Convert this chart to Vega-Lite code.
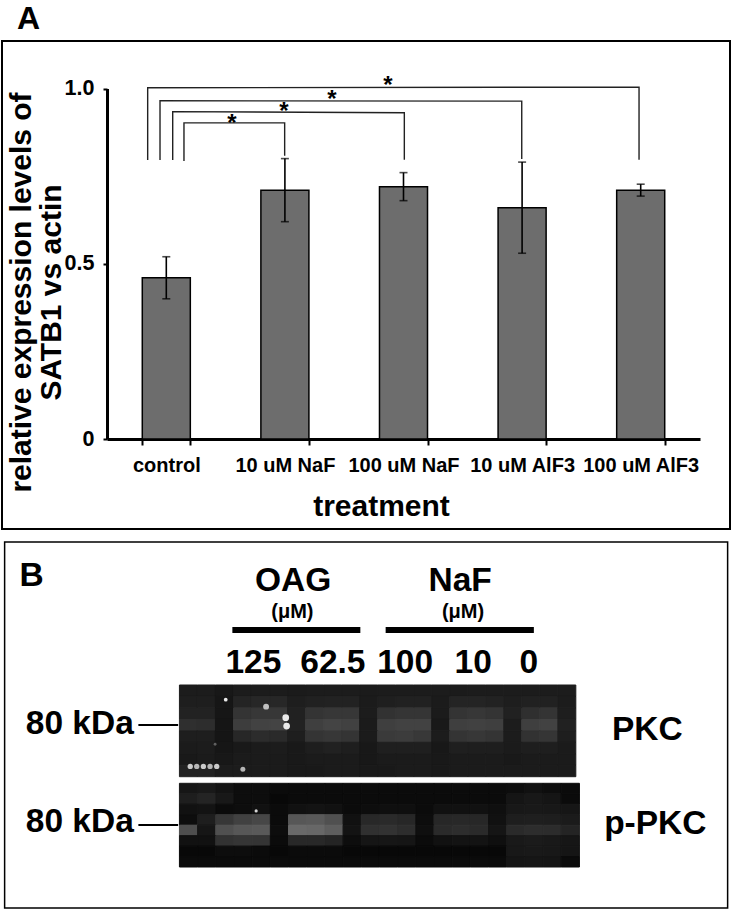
{"$schema":"https://vega.github.io/schema/vega-lite/v6.json","padding":{"left":1,"top":2,"right":0,"bottom":0},"autosize":"pad","background":"white","spacing":11,"center":true,"config":{"font":"Liberation Sans","text":{"font":"Liberation Sans","fontWeight":"bold"}},
"datasets":{
"bars":[{"treatment":"control","mean":0.46,"lo":0.40,"hi":0.52},{"treatment":"10 uM NaF","mean":0.71,"lo":0.62,"hi":0.80},{"treatment":"100 uM NaF","mean":0.72,"lo":0.68,"hi":0.76},{"treatment":"10 uM AlF3","mean":0.66,"lo":0.53,"hi":0.79},{"treatment":"100 uM AlF3","mean":0.71,"lo":0.693,"hi":0.727}],
"brackets":[{"b":"d","i":0,"lane":-0.157,"v":0.796},{"b":"d","i":1,"lane":-0.157,"v":1.002},{"b":"d","i":2,"lane":3.986,"v":1.004},{"b":"d","i":3,"lane":3.986,"v":0.797},{"b":"c","i":0,"lane":-0.053,"v":0.796},{"b":"c","i":1,"lane":-0.053,"v":0.965},{"b":"c","i":2,"lane":2.997,"v":0.964},{"b":"c","i":3,"lane":2.997,"v":0.799},{"b":"b","i":0,"lane":0.054,"v":0.796},{"b":"b","i":1,"lane":0.054,"v":0.934},{"b":"b","i":2,"lane":2.007,"v":0.931},{"b":"b","i":3,"lane":2.007,"v":0.797},{"b":"a","i":0,"lane":0.149,"v":0.793},{"b":"a","i":1,"lane":0.149,"v":0.902},{"b":"a","i":2,"lane":0.998,"v":0.902},{"b":"a","i":3,"lane":0.998,"v":0.808}],
"stars":[{"lane":0.554,"v":0.913,"t":"*"},{"lane":0.992,"v":0.947,"t":"*"},{"lane":1.397,"v":0.981,"t":"*"},{"lane":1.869,"v":1.021,"t":"*"}],
"heads":[{"x":39.9,"y":13.3,"t":"OAG"},{"x":63,"y":13.3,"t":"NaF"},{"x":34.4,"y":35.6,"t":"125"},{"x":45.4,"y":35.6,"t":"62.5"},{"x":55.4,"y":35.6,"t":"100"},{"x":64.8,"y":35.6,"t":"10"},{"x":72.5,"y":35.6,"t":"0"},{"x":10.4,"y":52.2,"t":"80 kDa"},{"x":10.4,"y":78.8,"t":"80 kDa"},{"x":88.9,"y":53.8,"t":"PKC"},{"x":90,"y":79.3,"t":"p-PKC"},{"x":3.73,"y":11.96,"t":"B"}],
"units":[{"x":39.8,"y":20.65,"t":"(μM)"},{"x":63.4,"y":20.65,"t":"(μM)"}],
"lines":[{"x":31.5,"x2":49.2,"y":23.9},{"x":52.7,"x2":73.2,"y":23.9}],
"marks":[{"x":18.5,"x2":24,"y":49.7},{"x":18.5,"x2":24,"y":76.9}],
"specks1":[{"c":2.57,"r":1.28,"s":14,"v":250},{"c":4.81,"r":1.89,"s":35,"v":210},{"c":5.9,"r":2.85,"s":45,"v":250},{"c":5.95,"r":3.58,"s":45,"v":250},{"c":3.52,"r":7.35,"s":25,"v":200},{"c":1.98,"r":5.17,"s":8,"v":110},{"c":0.6,"r":7.1,"s":28,"v":220},{"c":0.96,"r":7.1,"s":28,"v":200},{"c":1.33,"r":7.1,"s":28,"v":220},{"c":1.7,"r":7.1,"s":28,"v":200},{"c":2.07,"r":7.1,"s":28,"v":220}],
"specks2":[{"c":4.22,"r":2.64,"s":10,"v":230}],
"blot1":[
{"c":0,"r":0,"v":28},{"c":1,"r":0,"v":28},{"c":2,"r":0,"v":22},{"c":3,"r":0,"v":28},{"c":4,"r":0,"v":28},{"c":5,"r":0,"v":28},{"c":6,"r":0,"v":26},{"c":7,"r":0,"v":28},{"c":8,"r":0,"v":28},{"c":9,"r":0,"v":28},{"c":10,"r":0,"v":26},{"c":11,"r":0,"v":28},{"c":12,"r":0,"v":28},{"c":13,"r":0,"v":28},{"c":14,"r":0,"v":28},{"c":15,"r":0,"v":26},{"c":16,"r":0,"v":28},{"c":17,"r":0,"v":28},{"c":18,"r":0,"v":28},{"c":19,"r":0,"v":28},{"c":20,"r":0,"v":28},{"c":21,"r":0,"v":28},
{"c":0,"r":1,"v":30},{"c":1,"r":1,"v":30},{"c":2,"r":1,"v":20},{"c":3,"r":1,"v":38},{"c":4,"r":1,"v":42},{"c":5,"r":1,"v":42},{"c":6,"r":1,"v":30},{"c":7,"r":1,"v":34},{"c":8,"r":1,"v":36},{"c":9,"r":1,"v":36},{"c":10,"r":1,"v":26},{"c":11,"r":1,"v":32},{"c":12,"r":1,"v":34},{"c":13,"r":1,"v":34},{"c":14,"r":1,"v":26},{"c":15,"r":1,"v":38},{"c":16,"r":1,"v":38},{"c":17,"r":1,"v":36},{"c":18,"r":1,"v":30},{"c":19,"r":1,"v":34},{"c":20,"r":1,"v":34},{"c":21,"r":1,"v":28},
{"c":0,"r":2,"v":36},{"c":1,"r":2,"v":36},{"c":2,"r":2,"v":20},{"c":3,"r":2,"v":58},{"c":4,"r":2,"v":62},{"c":5,"r":2,"v":62},{"c":6,"r":2,"v":34},{"c":7,"r":2,"v":58},{"c":8,"r":2,"v":62},{"c":9,"r":2,"v":62},{"c":10,"r":2,"v":28},{"c":11,"r":2,"v":56},{"c":12,"r":2,"v":60},{"c":13,"r":2,"v":60},{"c":14,"r":2,"v":26},{"c":15,"r":2,"v":58},{"c":16,"r":2,"v":62},{"c":17,"r":2,"v":58},{"c":18,"r":2,"v":34},{"c":19,"r":2,"v":52},{"c":20,"r":2,"v":58},{"c":21,"r":2,"v":30},
{"c":0,"r":3,"v":52},{"c":1,"r":3,"v":50},{"c":2,"r":3,"v":18},{"c":3,"r":3,"v":70},{"c":4,"r":3,"v":76},{"c":5,"r":3,"v":78},{"c":6,"r":3,"v":36},{"c":7,"r":3,"v":72},{"c":8,"r":3,"v":78},{"c":9,"r":3,"v":74},{"c":10,"r":3,"v":26},{"c":11,"r":3,"v":72},{"c":12,"r":3,"v":76},{"c":13,"r":3,"v":76},{"c":14,"r":3,"v":24},{"c":15,"r":3,"v":72},{"c":16,"r":3,"v":74},{"c":17,"r":3,"v":72},{"c":18,"r":3,"v":28},{"c":19,"r":3,"v":72},{"c":20,"r":3,"v":76},{"c":21,"r":3,"v":34},
{"c":0,"r":4,"v":30},{"c":1,"r":4,"v":30},{"c":2,"r":4,"v":18},{"c":3,"r":4,"v":42},{"c":4,"r":4,"v":48},{"c":5,"r":4,"v":46},{"c":6,"r":4,"v":30},{"c":7,"r":4,"v":58},{"c":8,"r":4,"v":62},{"c":9,"r":4,"v":58},{"c":10,"r":4,"v":26},{"c":11,"r":4,"v":66},{"c":12,"r":4,"v":68},{"c":13,"r":4,"v":64},{"c":14,"r":4,"v":28},{"c":15,"r":4,"v":58},{"c":16,"r":4,"v":62},{"c":17,"r":4,"v":58},{"c":18,"r":4,"v":28},{"c":19,"r":4,"v":56},{"c":20,"r":4,"v":60},{"c":21,"r":4,"v":30},
{"c":0,"r":5,"v":26},{"c":1,"r":5,"v":28},{"c":2,"r":5,"v":20},{"c":3,"r":5,"v":24},{"c":4,"r":5,"v":26},{"c":5,"r":5,"v":28},{"c":6,"r":5,"v":24},{"c":7,"r":5,"v":30},{"c":8,"r":5,"v":34},{"c":9,"r":5,"v":30},{"c":10,"r":5,"v":22},{"c":11,"r":5,"v":32},{"c":12,"r":5,"v":32},{"c":13,"r":5,"v":32},{"c":14,"r":5,"v":22},{"c":15,"r":5,"v":32},{"c":16,"r":5,"v":30},{"c":17,"r":5,"v":30},{"c":18,"r":5,"v":26},{"c":19,"r":5,"v":30},{"c":20,"r":5,"v":30},{"c":21,"r":5,"v":26},
{"c":0,"r":6,"v":24},{"c":1,"r":6,"v":26},{"c":2,"r":6,"v":22},{"c":3,"r":6,"v":26},{"c":4,"r":6,"v":26},{"c":5,"r":6,"v":26},{"c":6,"r":6,"v":24},{"c":7,"r":6,"v":26},{"c":8,"r":6,"v":26},{"c":9,"r":6,"v":26},{"c":10,"r":6,"v":22},{"c":11,"r":6,"v":26},{"c":12,"r":6,"v":26},{"c":13,"r":6,"v":26},{"c":14,"r":6,"v":24},{"c":15,"r":6,"v":26},{"c":16,"r":6,"v":26},{"c":17,"r":6,"v":26},{"c":18,"r":6,"v":24},{"c":19,"r":6,"v":26},{"c":20,"r":6,"v":26},{"c":21,"r":6,"v":26},
{"c":0,"r":7,"v":36},{"c":1,"r":7,"v":36},{"c":2,"r":7,"v":28},{"c":3,"r":7,"v":28},{"c":4,"r":7,"v":26},{"c":5,"r":7,"v":26},{"c":6,"r":7,"v":24},{"c":7,"r":7,"v":24},{"c":8,"r":7,"v":26},{"c":9,"r":7,"v":26},{"c":10,"r":7,"v":24},{"c":11,"r":7,"v":24},{"c":12,"r":7,"v":26},{"c":13,"r":7,"v":26},{"c":14,"r":7,"v":24},{"c":15,"r":7,"v":26},{"c":16,"r":7,"v":26},{"c":17,"r":7,"v":26},{"c":18,"r":7,"v":26},{"c":19,"r":7,"v":26},{"c":20,"r":7,"v":26},{"c":21,"r":7,"v":26}],
"blot2":[
{"c":0,"r":0,"v":20},{"c":1,"r":0,"v":24},{"c":2,"r":0,"v":16},{"c":3,"r":0,"v":10},{"c":4,"r":0,"v":10},{"c":5,"r":0,"v":8},{"c":6,"r":0,"v":8},{"c":7,"r":0,"v":8},{"c":8,"r":0,"v":8},{"c":9,"r":0,"v":8},{"c":10,"r":0,"v":8},{"c":11,"r":0,"v":8},{"c":12,"r":0,"v":8},{"c":13,"r":0,"v":8},{"c":14,"r":0,"v":8},{"c":15,"r":0,"v":8},{"c":16,"r":0,"v":8},{"c":17,"r":0,"v":8},{"c":18,"r":0,"v":10},{"c":19,"r":0,"v":14},{"c":20,"r":0,"v":10},{"c":21,"r":0,"v":8},
{"c":0,"r":1,"v":30},{"c":1,"r":1,"v":38},{"c":2,"r":1,"v":22},{"c":3,"r":1,"v":10},{"c":4,"r":1,"v":10},{"c":5,"r":1,"v":6},{"c":6,"r":1,"v":8},{"c":7,"r":1,"v":8},{"c":8,"r":1,"v":8},{"c":9,"r":1,"v":8},{"c":10,"r":1,"v":8},{"c":11,"r":1,"v":8},{"c":12,"r":1,"v":8},{"c":13,"r":1,"v":8},{"c":14,"r":1,"v":8},{"c":15,"r":1,"v":8},{"c":16,"r":1,"v":8},{"c":17,"r":1,"v":8},{"c":18,"r":1,"v":18},{"c":19,"r":1,"v":22},{"c":20,"r":1,"v":18},{"c":21,"r":1,"v":8},
{"c":0,"r":2,"v":14},{"c":1,"r":2,"v":16},{"c":2,"r":2,"v":8},{"c":3,"r":2,"v":10},{"c":4,"r":2,"v":14},{"c":5,"r":2,"v":8},{"c":6,"r":2,"v":14},{"c":7,"r":2,"v":16},{"c":8,"r":2,"v":14},{"c":9,"r":2,"v":8},{"c":10,"r":2,"v":10},{"c":11,"r":2,"v":12},{"c":12,"r":2,"v":12},{"c":13,"r":2,"v":8},{"c":14,"r":2,"v":14},{"c":15,"r":2,"v":14},{"c":16,"r":2,"v":14},{"c":17,"r":2,"v":12},{"c":18,"r":2,"v":22},{"c":19,"r":2,"v":24},{"c":20,"r":2,"v":22},{"c":21,"r":2,"v":20},
{"c":0,"r":3,"v":10},{"c":1,"r":3,"v":30},{"c":2,"r":3,"v":62},{"c":3,"r":3,"v":74},{"c":4,"r":3,"v":82},{"c":5,"r":3,"v":8},{"c":6,"r":3,"v":100},{"c":7,"r":3,"v":102},{"c":8,"r":3,"v":92},{"c":9,"r":3,"v":14},{"c":10,"r":3,"v":44},{"c":11,"r":3,"v":46},{"c":12,"r":3,"v":42},{"c":13,"r":3,"v":10},{"c":14,"r":3,"v":42},{"c":15,"r":3,"v":44},{"c":16,"r":3,"v":42},{"c":17,"r":3,"v":14},{"c":18,"r":3,"v":30},{"c":19,"r":3,"v":32},{"c":20,"r":3,"v":30},{"c":21,"r":3,"v":26},
{"c":0,"r":4,"v":90},{"c":1,"r":4,"v":20},{"c":2,"r":4,"v":92},{"c":3,"r":4,"v":100},{"c":4,"r":4,"v":102},{"c":5,"r":4,"v":10},{"c":6,"r":4,"v":120},{"c":7,"r":4,"v":118},{"c":8,"r":4,"v":108},{"c":9,"r":4,"v":16},{"c":10,"r":4,"v":54},{"c":11,"r":4,"v":56},{"c":12,"r":4,"v":50},{"c":13,"r":4,"v":12},{"c":14,"r":4,"v":46},{"c":15,"r":4,"v":50},{"c":16,"r":4,"v":46},{"c":17,"r":4,"v":18},{"c":18,"r":4,"v":46},{"c":19,"r":4,"v":50},{"c":20,"r":4,"v":48},{"c":21,"r":4,"v":38},
{"c":0,"r":5,"v":14},{"c":1,"r":5,"v":14},{"c":2,"r":5,"v":56},{"c":3,"r":5,"v":60},{"c":4,"r":5,"v":58},{"c":5,"r":5,"v":8},{"c":6,"r":5,"v":44},{"c":7,"r":5,"v":44},{"c":8,"r":5,"v":38},{"c":9,"r":5,"v":10},{"c":10,"r":5,"v":18},{"c":11,"r":5,"v":20},{"c":12,"r":5,"v":18},{"c":13,"r":5,"v":8},{"c":14,"r":5,"v":14},{"c":15,"r":5,"v":16},{"c":16,"r":5,"v":16},{"c":17,"r":5,"v":12},{"c":18,"r":5,"v":24},{"c":19,"r":5,"v":26},{"c":20,"r":5,"v":24},{"c":21,"r":5,"v":20},
{"c":0,"r":6,"v":6},{"c":1,"r":6,"v":6},{"c":2,"r":6,"v":10},{"c":3,"r":6,"v":10},{"c":4,"r":6,"v":8},{"c":5,"r":6,"v":6},{"c":6,"r":6,"v":8},{"c":7,"r":6,"v":8},{"c":8,"r":6,"v":8},{"c":9,"r":6,"v":6},{"c":10,"r":6,"v":6},{"c":11,"r":6,"v":6},{"c":12,"r":6,"v":6},{"c":13,"r":6,"v":6},{"c":14,"r":6,"v":6},{"c":15,"r":6,"v":6},{"c":16,"r":6,"v":6},{"c":17,"r":6,"v":6},{"c":18,"r":6,"v":22},{"c":19,"r":6,"v":24},{"c":20,"r":6,"v":22},{"c":21,"r":6,"v":18},
{"c":0,"r":7,"v":8},{"c":1,"r":7,"v":8},{"c":2,"r":7,"v":8},{"c":3,"r":7,"v":8},{"c":4,"r":7,"v":8},{"c":5,"r":7,"v":8},{"c":6,"r":7,"v":8},{"c":7,"r":7,"v":8},{"c":8,"r":7,"v":8},{"c":9,"r":7,"v":8},{"c":10,"r":7,"v":8},{"c":11,"r":7,"v":8},{"c":12,"r":7,"v":8},{"c":13,"r":7,"v":8},{"c":14,"r":7,"v":8},{"c":15,"r":7,"v":8},{"c":16,"r":7,"v":8},{"c":17,"r":7,"v":8},{"c":18,"r":7,"v":18},{"c":19,"r":7,"v":20},{"c":20,"r":7,"v":18},{"c":21,"r":7,"v":8}]
},
"vconcat":[
{"width":728,"height":488,"view":{"stroke":"#000","strokeWidth":2,"fill":"white"},
"title":{"text":"A","anchor":"start","frame":"group","dx":15,"fontSize":32,"fontWeight":"bold","font":"Liberation Sans","offset":5,"color":"#000"},
"encoding":{"y":{"type":"quantitative","scale":{"domain":[0,1],"range":[398,47.5],"nice":false}}},
"layer":[
{"data":{"name":"bars"},
 "encoding":{"x":{"field":"treatment","type":"nominal","sort":null,"scale":{"range":[105,698],"paddingInner":0.595,"paddingOuter":0.2975}}},
 "layer":[
 {"mark":{"type":"bar","fill":"#6d6d6d","stroke":"#000","strokeWidth":1.5},
  "encoding":{"x":{"field":"treatment","type":"nominal","sort":null,"scale":{"range":[105,698],"paddingInner":0.595,"paddingOuter":0.2975},
    "axis":{"title":"treatment","titleFont":"Liberation Sans","titleFontSize":30,"titleFontWeight":"bold","titleColor":"#000","titleX":379,"titleY":52,"titleAlign":"center","offset":-90,"domainWidth":3,"domainColor":"#000","tickColor":"#000","tickWidth":2,"tickSize":6,"tickBand":"extent","labelAngle":0,"labelFont":"Liberation Sans","labelFontSize":20,"labelFontWeight":"bold","labelColor":"#000","labelPadding":10,"labelOverlap":false,"labelBound":false,"labelFlush":false,"encoding":{"labels":{"update":{"dx":{"signal":"datum.value=='control'?-2:datum.value=='10 uM NaF'?-8:datum.value=='100 uM NaF'?-5:datum.value=='10 uM AlF3'?1:9"}}}}}},
   "y":{"field":"mean","type":"quantitative","scale":{"domain":[0,1],"range":[398,47.5],"nice":false},
    "axis":{"title":["relative expression levels of","SATB1 vs actin"],"titleFont":"Liberation Sans","titleFontSize":30,"titleFontWeight":"bold","titleColor":"#000","titleLineHeight":30,"titleX":-71,"titleY":251,"titleAlign":"center","titleAngle":-90,"offset":-105,"values":[0,0.5,1],"labelExpr":"datum.value==0?'0':format(datum.value,'.1f')","domainWidth":3,"domainColor":"#000","tickColor":"#000","tickWidth":2,"tickSize":4,"labelFont":"Liberation Sans","labelFontSize":21.5,"labelFontWeight":"bold","labelColor":"#000","labelPadding":9,"grid":false}}}},
 {"mark":{"type":"rule","color":"#000","strokeWidth":1.6},"encoding":{"y":{"field":"lo","type":"quantitative"},"y2":{"field":"hi"}}},
 {"mark":{"type":"tick","orient":"horizontal","color":"#000","thickness":1.6,"size":8},"encoding":{"y":{"field":"lo","type":"quantitative"}}},
 {"mark":{"type":"tick","orient":"horizontal","color":"#000","thickness":1.6,"size":8},"encoding":{"y":{"field":"hi","type":"quantitative"}}}
 ]},
{"data":{"name":"brackets"},"mark":{"type":"line","color":"#222","strokeWidth":1.4,"interpolate":"linear"},
 "encoding":{"x":{"field":"lane","type":"quantitative","axis":null,"scale":{"domain":[-0.5,4.5],"range":[105,698],"nice":false,"zero":false}},"y":{"field":"v","type":"quantitative"},"detail":{"field":"b"},"order":{"field":"i"}}},
{"data":{"name":"stars"},"mark":{"type":"text","fontSize":24,"fontWeight":"bold","font":"Liberation Sans","color":"#000","baseline":"middle","dy":5},
 "encoding":{"x":{"field":"lane","type":"quantitative","axis":null,"scale":{"domain":[-0.5,4.5],"range":[105,698],"nice":false,"zero":false}},"y":{"field":"v","type":"quantitative"},"text":{"field":"t"}}}
],
"resolve":{"scale":{"x":"independent"}}},
{"width":723,"height":366,"view":{"stroke":"#000","strokeWidth":1.5,"fill":"white"},
"layer":[
{"data":{"name":"blot1"},"mark":{"type":"rect","strokeWidth":1},"encoding":{"x":{"field":"c","type":"ordinal","axis":null,"scale":{"range":[174.8,571.2],"paddingInner":0,"paddingOuter":0}},"y":{"field":"r","type":"ordinal","axis":null,"scale":{"range":[143,234.7],"paddingInner":0,"paddingOuter":0}},"color":{"field":"v","type":"quantitative","legend":null,"scale":{"domain":[0,270],"range":["#000000","#ffffff"]}},"stroke":{"field":"v","type":"quantitative","legend":null,"scale":{"domain":[0,270],"range":["#000000","#ffffff"]}}}},
{"data":{"name":"specks1"},"mark":{"type":"point","filled":true,"shape":"circle","opacity":1},"encoding":{"x":{"field":"c","type":"quantitative","axis":null,"scale":{"domain":[0,22],"range":[174.8,571.2],"nice":false,"zero":false}},"y":{"field":"r","type":"quantitative","axis":null,"scale":{"domain":[0,8],"range":[143,234.7],"nice":false,"zero":false}},"size":{"field":"s","type":"quantitative","legend":null,"scale":null},"color":{"field":"v","type":"quantitative","legend":null,"scale":{"domain":[0,270],"range":["#000000","#ffffff"]}}}},
{"data":{"name":"blot2"},"mark":{"type":"rect","strokeWidth":1},"encoding":{"x":{"field":"c","type":"ordinal","axis":null,"scale":{"range":[174.8,574.8],"paddingInner":0,"paddingOuter":0}},"y":{"field":"r","type":"ordinal","axis":null,"scale":{"range":[241.3,325],"paddingInner":0,"paddingOuter":0}},"color":{"field":"v","type":"quantitative","legend":null,"scale":{"domain":[0,270],"range":["#000000","#ffffff"]}},"stroke":{"field":"v","type":"quantitative","legend":null,"scale":{"domain":[0,270],"range":["#000000","#ffffff"]}}}},
{"data":{"name":"specks2"},"mark":{"type":"point","filled":true,"shape":"circle","opacity":1},"encoding":{"x":{"field":"c","type":"quantitative","axis":null,"scale":{"domain":[0,22],"range":[174.8,574.8],"nice":false,"zero":false}},"y":{"field":"r","type":"quantitative","axis":null,"scale":{"domain":[0,8],"range":[241.3,325],"nice":false,"zero":false}},"size":{"field":"s","type":"quantitative","legend":null,"scale":null},"color":{"field":"v","type":"quantitative","legend":null,"scale":{"domain":[0,270],"range":["#000000","#ffffff"]}}}},
{"data":{"name":"heads"},"mark":{"type":"text","fontSize":33.5,"fontWeight":"bold","font":"Liberation Sans","color":"#000","baseline":"alphabetic"},"encoding":{"x":{"field":"x","type":"quantitative","axis":null,"scale":{"domain":[0,100],"range":[0,723],"nice":false,"zero":false}},"y":{"field":"y","type":"quantitative","axis":null,"scale":{"domain":[0,100],"range":[0,368],"nice":false,"zero":false}},"text":{"field":"t"}}},
{"data":{"name":"units"},"mark":{"type":"text","fontSize":20,"fontWeight":"bold","font":"Liberation Sans","color":"#000","baseline":"alphabetic"},"encoding":{"x":{"field":"x","type":"quantitative","axis":null,"scale":{"domain":[0,100],"range":[0,723],"nice":false,"zero":false}},"y":{"field":"y","type":"quantitative","axis":null,"scale":{"domain":[0,100],"range":[0,368],"nice":false,"zero":false}},"text":{"field":"t"}}},
{"data":{"name":"lines"},"mark":{"type":"rule","color":"#000","strokeWidth":6},"encoding":{"x":{"field":"x","type":"quantitative","axis":null,"scale":{"domain":[0,100],"range":[0,723],"nice":false,"zero":false}},"x2":{"field":"x2"},"y":{"field":"y","type":"quantitative","axis":null,"scale":{"domain":[0,100],"range":[0,368],"nice":false,"zero":false}}}},
{"data":{"name":"marks"},"mark":{"type":"rule","color":"#000","strokeWidth":2},"encoding":{"x":{"field":"x","type":"quantitative","axis":null,"scale":{"domain":[0,100],"range":[0,723],"nice":false,"zero":false}},"x2":{"field":"x2"},"y":{"field":"y","type":"quantitative","axis":null,"scale":{"domain":[0,100],"range":[0,368],"nice":false,"zero":false}}}}
],
"resolve":{"scale":{"x":"independent","y":"independent"}}}
]}
